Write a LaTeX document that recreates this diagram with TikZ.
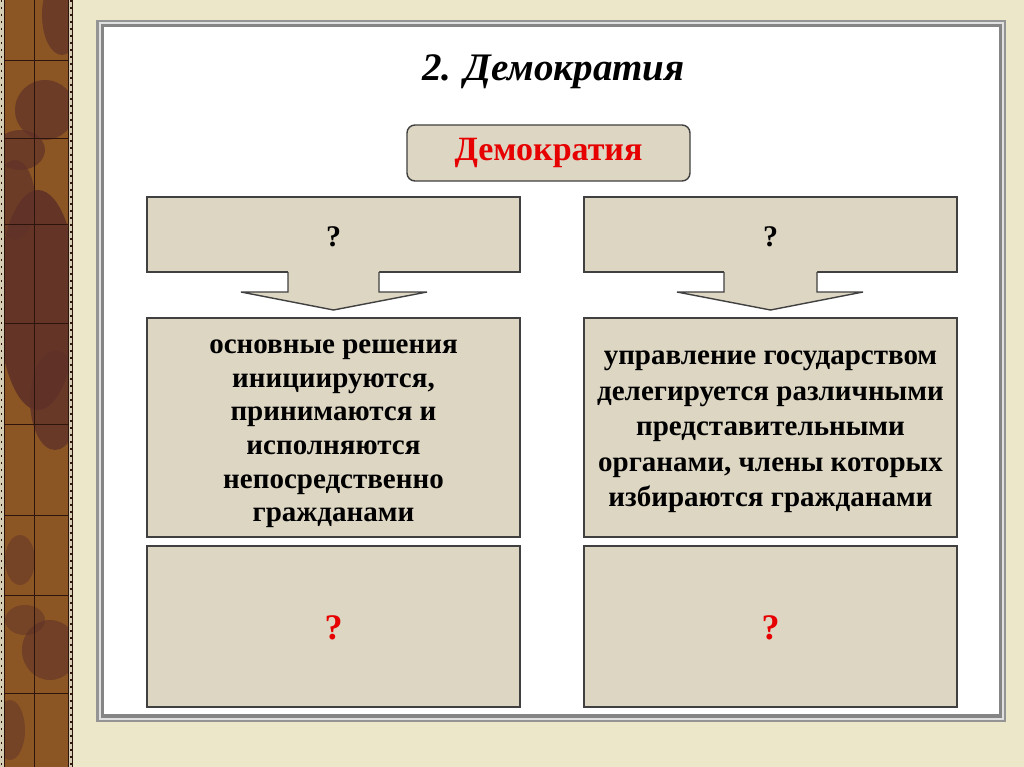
\documentclass[tikz,border=0pt]{standalone}
\usepackage{fontspec}
\setmainfont{Liberation Serif}
\begin{document}
\begin{tikzpicture}[x=1pt,y=-1pt,
  boxline/.style={draw=black!75,line width=1.4pt},
  boxfill/.style={fill=boxc},
  qbox/.style={boxfill,boxline,rectangle,inner sep=0pt,minimum width=373pt},
  body/.style={align=center,font=\fontsize{29}{33.6}\selectfont\bfseries},
  qmark/.style={font=\fontsize{30}{34}\selectfont\bfseries},
  rqmark/.style={font=\fontsize{36}{40}\selectfont\bfseries,text=redc},
]
\definecolor{boxc}{RGB}{221,214,195}
\definecolor{redc}{RGB}{230,0,0}
\definecolor{paper}{RGB}{236,231,200}
\definecolor{brownA}{RGB}{140,86,36}
\definecolor{brownB}{RGB}{96,50,40}
\definecolor{stripedge}{RGB}{214,206,180}
\definecolor{gridc}{RGB}{45,20,12}
\useasboundingbox (0,0) rectangle (1024,767);
% paper background
\fill[paper] (0,0) rectangle (1024,767);
% left decorative strip
\fill[stripedge] (0,0) rectangle (73,767);
\begin{scope}
  \clip (4.5,0) rectangle (68.5,767);
  \fill[brownA] (4.5,0) rectangle (68.5,767);
  \fill[brownB,opacity=0.7] (62,15) ellipse (20 and 40);
  \fill[brownB,opacity=0.7] (45,110) ellipse (30 and 30);
  \fill[brownB,opacity=0.7] (20,150) ellipse (25 and 20);
  \fill[brownB,opacity=0.9] (38,300) ellipse (40 and 110);
  \fill[brownB,opacity=0.7] (15,200) ellipse (20 and 40);
  \fill[brownB,opacity=0.8] (55,400) ellipse (25 and 50);
  \fill[brownB,opacity=0.6] (50,650) ellipse (28 and 30);
  \fill[brownB,opacity=0.5] (25,620) ellipse (20 and 15);
  \fill[brownB,opacity=0.5] (20,560) ellipse (15 and 25);
  \fill[brownB,opacity=0.5] (10,730) ellipse (15 and 30);
  \foreach \yy in {60,138,224,323,424,515,595,693}
    \draw[gridc,line width=0.9pt] (4.5,\yy) -- (68.5,\yy);
  \draw[gridc,line width=0.9pt] (34,0) -- (34,767);
\end{scope}
\draw[gridc,line width=1pt] (4.5,0) -- (4.5,767) (68.5,0) -- (68.5,767) (72.5,0) -- (72.5,767);
\draw[gridc,line width=1.6pt,dash pattern=on 2pt off 5pt] (1.5,0) -- (1.5,767) (70.7,0) -- (70.7,767);
% framed white panel
\fill[black!42] (96,20) rectangle (1006,722);
\fill[black!12] (98.5,22.5) rectangle (1003.5,719.5);
\fill[black!48] (100.5,24.5) rectangle (1001.5,717.5);
\fill[white] (103.5,27) rectangle (998.5,714);
% title
\node (title) at (553.5,72) {\fontsize{39}{43}\selectfont\bfseries\itshape 2. Демократия};
% top rounded box
\node (dem) [boxfill,boxline,rounded corners=8pt,minimum width=283pt,minimum height=56pt,inner sep=0pt]
  at (548.5,153) {\fontsize{34}{38}\selectfont\bfseries\color{redc}Демократия};
% left column
\node (q1) [qbox,minimum height=75pt] at (333.5,234.5) {};
\coordinate (q1s) at (333.5,272);
\fill[boxc] ([xshift=-45.5pt,yshift=2pt]q1s) -- ([xshift=-45.5pt,yshift=-20pt]q1s) -- ([xshift=-92.5pt,yshift=-20pt]q1s)
  -- ([yshift=-38pt]q1s) -- ([xshift=93.5pt,yshift=-20pt]q1s) -- ([xshift=45.5pt,yshift=-20pt]q1s) -- ([xshift=45.5pt,yshift=2pt]q1s) -- cycle;
\draw[boxline,line join=miter] ([xshift=-45.5pt]q1s) -- ([xshift=-45.5pt,yshift=-20pt]q1s) -- ([xshift=-92.5pt,yshift=-20pt]q1s)
  -- ([yshift=-38pt]q1s) -- ([xshift=93.5pt,yshift=-20pt]q1s) -- ([xshift=45.5pt,yshift=-20pt]q1s) -- ([xshift=45.5pt]q1s);
\node (q1t) [qmark] at (333.5,237) {?};
\node (d1) [qbox,minimum height=219pt] at (333.5,427.5) {};
\node (d1t) [body] at (333.5,434) {основные решения\\инициируются,\\принимаются и\\исполняются\\непосредственно\\гражданами};
\node (a1) [qbox,minimum height=161pt] at (333.5,626.5) {};
\node (a1t) [rqmark] at (333.5,628) {?};
% right column
\node (q2) [qbox,minimum height=75pt] at (770.5,234.5) {};
\coordinate (q2s) at (770.5,272);
\fill[boxc] ([xshift=-46.5pt,yshift=2pt]q2s) -- ([xshift=-46.5pt,yshift=-20pt]q2s) -- ([xshift=-93.5pt,yshift=-20pt]q2s)
  -- ([yshift=-38pt]q2s) -- ([xshift=92.5pt,yshift=-20pt]q2s) -- ([xshift=46.5pt,yshift=-20pt]q2s) -- ([xshift=46.5pt,yshift=2pt]q2s) -- cycle;
\draw[boxline,line join=miter] ([xshift=-46.5pt]q2s) -- ([xshift=-46.5pt,yshift=-20pt]q2s) -- ([xshift=-93.5pt,yshift=-20pt]q2s)
  -- ([yshift=-38pt]q2s) -- ([xshift=92.5pt,yshift=-20pt]q2s) -- ([xshift=46.5pt,yshift=-20pt]q2s) -- ([xshift=46.5pt]q2s);
\node (q2t) [qmark] at (770.5,237) {?};
\node (d2) [qbox,minimum height=219pt] at (770.5,427.5) {};
\node (d2t) [body,font=\fontsize{29}{35.5}\selectfont\bfseries] at (770.5,432) {управление государством\\делегируется различными\\представительными\\органами, члены которых\\избираются гражданами};
\node (a2) [qbox,minimum height=161pt] at (770.5,626.5) {};
\node (a2t) [rqmark] at (770.5,628) {?};
\end{tikzpicture}
\end{document}
